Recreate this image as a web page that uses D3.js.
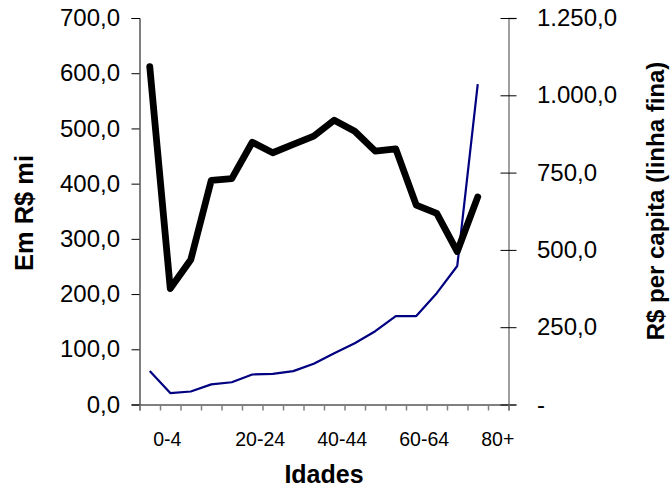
<!DOCTYPE html>
<html>
<head>
<meta charset="utf-8">
<script src="https://cdn.jsdelivr.net/npm/d3@7"></script>
<style>
  html, body { margin: 0; padding: 0; background: #fff; }
  svg { display: block; font-family: "Liberation Sans", Arial, sans-serif; }
</style>
</head>
<body>
<svg id="chart" width="672" height="488"></svg>
<script>
// ---- data ----
const ages = ["0-4","5-9","10-14","15-19","20-24","25-29","30-34","35-39","40-44","45-49","50-54","55-59","60-64","65-69","70-74","75-79","80+"];
const totalMi = [612, 210, 262, 406, 409, 475, 456, 471, 486, 515, 495, 459, 463, 361, 346, 277, 376];
const perCapita = [108, 37, 42, 65, 72, 97, 99, 108, 132, 166, 198, 237, 286, 286, 360, 448, 1036];
const leftTicks = [0, 100, 200, 300, 400, 500, 600, 700];
const rightTicks = [0, 250, 500, 750, 1000, 1250];
const labelEvery = 4;
const slotCount = 18;

// ---- layout ----
const svg = d3.select("#chart");
const plotLeft = 139.5, plotRight = 508.5, plotTop = 18, plotBottom = 404.5;

const locale = d3.formatLocale({decimal: ",", thousands: ".", grouping: [3], currency: ["R$", ""]});
const fmt = locale.format(",.1f");

const x = d3.scaleLinear().domain([0, slotCount]).range([plotLeft, plotRight]);
const yL = d3.scaleLinear().domain([0, 700]).range([plotBottom, plotTop]);
const yR = d3.scaleLinear().domain([0, 1250]).range([plotBottom, plotTop]);

// left axis
const gL = svg.append("g").attr("transform", `translate(${plotLeft},0)`)
  .call(d3.axisLeft(yL).tickValues(leftTicks).tickSize(8).tickPadding(11.5).tickFormat(fmt));
gL.select(".domain").attr("stroke", "#000").attr("stroke-width", 1);
gL.selectAll(".tick line").attr("stroke", "#000");
gL.selectAll(".tick text").attr("font-size", 24).attr("fill", "#000")
  .attr("font-family", "Liberation Sans, Arial, sans-serif");

// right axis
const gR = svg.append("g").attr("transform", `translate(${plotRight},0)`)
  .call(d3.axisRight(yR).tickValues(rightTicks).tickSize(8).tickPadding(20.5)
    .tickFormat(d => d === 0 ? "-" : fmt(d)));
gR.select(".domain").attr("stroke", "#808080").attr("stroke-width", 1.5);
gR.selectAll(".tick line").attr("x1", -8).attr("x2", 8).attr("stroke", "#000");
gR.selectAll(".tick text").attr("font-size", 24).attr("fill", "#000")
  .attr("font-family", "Liberation Sans, Arial, sans-serif");

// x axis
const gX = svg.append("g").attr("transform", `translate(0,${plotBottom})`)
  .call(d3.axisBottom(x).tickValues(d3.range(0, slotCount + 1)).tickSize(6).tickFormat(""));
gX.select(".domain").attr("stroke", "#000").attr("stroke-width", 1);
gX.selectAll(".tick line").attr("stroke", "#808080").attr("stroke-width", 1.5);

// x category labels (every 4th)
svg.append("g").selectAll("text")
  .data(ages.map((a, i) => ({a, i})).filter(d => d.i % labelEvery === 0))
  .join("text")
  .attr("x", d => x(d.i + 0.5) + 3.5)
  .attr("y", 446)
  .attr("text-anchor", "start")
  .attr("font-size", 19.5)
  .attr("fill", "#000")
  .text(d => d.a);

// lines
const lineL = d3.line().x((d, i) => x(i + 0.5)).y(d => yL(d));
const lineR = d3.line().x((d, i) => x(i + 0.5)).y(d => yR(d));

svg.append("path").datum(perCapita)
  .attr("d", lineR).attr("fill", "none")
  .attr("stroke", "#000080").attr("stroke-width", 2.2)
  .attr("stroke-linejoin", "round");

svg.append("path").datum(totalMi)
  .attr("d", lineL).attr("fill", "none")
  .attr("stroke", "#000").attr("stroke-width", 6.8)
  .attr("stroke-linejoin", "round").attr("stroke-linecap", "round");

// titles
svg.append("text").attr("x", 324).attr("y", 483)
  .attr("text-anchor", "middle").attr("font-size", 25).attr("font-weight", "bold")
  .text("Idades");

svg.append("text").attr("transform", "translate(33,213) rotate(-90)")
  .attr("text-anchor", "middle").attr("font-size", 25.5).attr("font-weight", "bold")
  .text("Em R$ mi");

svg.append("text").attr("transform", "translate(664,201) rotate(-90)")
  .attr("text-anchor", "middle").attr("font-size", 24).attr("font-weight", "bold")
  .text("R$ per capita (linha fina)");
</script>
</body>
</html>
